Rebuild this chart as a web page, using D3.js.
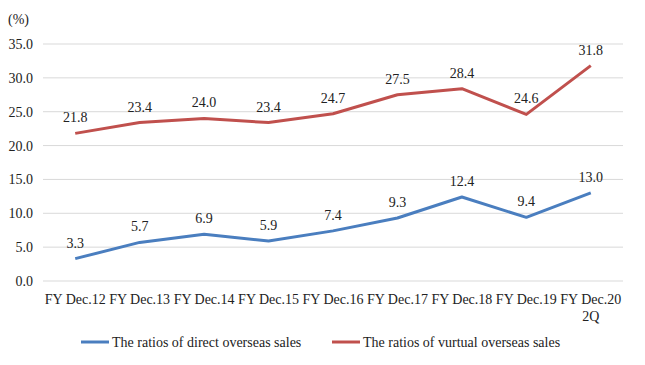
<!DOCTYPE html>
<html><head><meta charset="utf-8">
<script src="https://cdn.jsdelivr.net/npm/d3@7"></script>
<style>body{margin:0;background:#fff}svg{display:block}</style>
</head><body><svg id="c" width="645" height="365" font-family="'Liberation Serif', 'Times New Roman', 'DejaVu Serif', serif" fill="#222"></svg>
<script>
const categories = [["FY Dec.12"],["FY Dec.13"],["FY Dec.14"],["FY Dec.15"],["FY Dec.16"],["FY Dec.17"],["FY Dec.18"],["FY Dec.19"],["FY Dec.20","2Q"]];
const directValues = [3.3,5.7,6.9,5.9,7.4,9.3,12.4,9.4,13.0];
const virtualValues = [21.8,23.4,24.0,23.4,24.7,27.5,28.4,24.6,31.8];
const yTicks = [0,5,10,15,20,25,30,35];
const seriesNames = ["The ratios of direct overseas sales","The ratios of vurtual overseas sales"];
const colors = ["#4a7ebf","#c0504d"];

const svg = d3.select("#c");
const x = d3.scaleBand().domain(d3.range(categories.length)).range([43,623]);
const y = d3.scaleLinear().domain([0,35]).range([281,44]);

svg.append("g").selectAll("line").data(yTicks).join("line")
  .attr("x1",43).attr("x2",623).attr("y1",d=>y(d)).attr("y2",d=>y(d))
  .attr("stroke","#d9d9d9").attr("stroke-width",1);
svg.append("g").selectAll("text").data(yTicks).join("text")
  .attr("x",33).attr("y",d=>y(d)+5).attr("text-anchor","end").attr("font-size",14)
  .text(d=>d.toFixed(1));
svg.append("text").attr("x",8).attr("y",24).attr("font-size",14).text("(%)");

const xg = svg.append("g").selectAll("text").data(categories).join("text")
  .attr("text-anchor","middle").attr("font-size",14)
  .attr("x",(d,i)=>x(i)+x.bandwidth()/2).attr("y",304);
xg.selectAll("tspan").data(d=>d).join("tspan")
  .attr("x",function(){return this.parentNode.getAttribute("x");})
  .attr("dy",(d,i)=>i===0?0:17).text(d=>d);

const line = d3.line().x((d,i)=>x(i)+x.bandwidth()/2).y(d=>y(d));
[directValues,virtualValues].forEach((vals,k)=>{
  svg.append("path").attr("d",line(vals)).attr("fill","none")
    .attr("stroke",colors[k]).attr("stroke-width",3).attr("stroke-linejoin","round");
  svg.append("g").selectAll("text").data(vals).join("text")
    .attr("x",(d,i)=>x(i)+x.bandwidth()/2).attr("y",d=>y(d)-11)
    .attr("text-anchor","middle").attr("font-size",14).text(d=>d.toFixed(1));
});

const legX = [81,332];
seriesNames.forEach((n,k)=>{
  svg.append("line").attr("x1",legX[k]).attr("x2",legX[k]+28).attr("y1",342).attr("y2",342)
    .attr("stroke",colors[k]).attr("stroke-width",3);
  svg.append("text").attr("x",legX[k]+31).attr("y",347).attr("font-size",14).text(n);
});
</script></body></html>
